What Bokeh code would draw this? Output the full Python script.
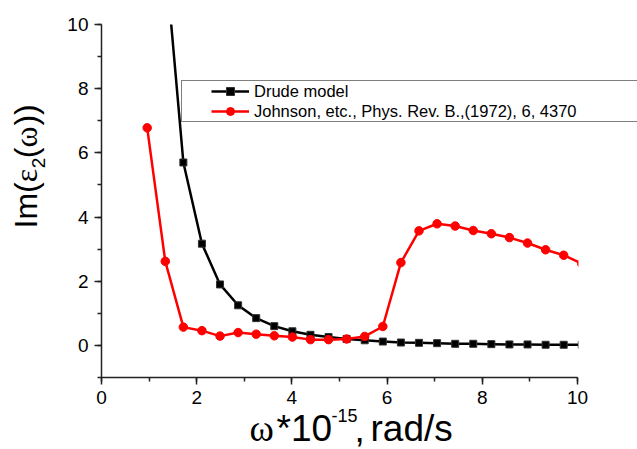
import math
from bokeh.plotting import figure
from bokeh.layouts import row, column
from bokeh.models import Range1d, Label, Legend, LegendItem, SingleIntervalTicker, BoxAnnotation
from bokeh.embed import file_html
from bokeh.resources import INLINE

# ---- data ----
drude_x = [1.34, 1.72, 2.11, 2.49, 2.87, 3.25, 3.63, 4.01, 4.39, 4.77, 5.15, 5.53,
           5.91, 6.29, 6.67, 7.05, 7.43, 7.81, 8.19, 8.57, 8.95, 9.33, 9.71, 10.09]
drude_y = [12.1, 5.70, 3.17, 1.90, 1.25, 0.85, 0.60, 0.44, 0.33, 0.26, 0.20, 0.16,
           0.12, 0.09, 0.08, 0.07, 0.05, 0.05, 0.04, 0.03, 0.03, 0.02, 0.02, 0.02]
johnson_x = [0.96, 1.34, 1.72, 2.11, 2.49, 2.87, 3.25, 3.63, 4.01, 4.39, 4.77, 5.15,
             5.53, 5.91, 6.29, 6.67, 7.05, 7.43, 7.81, 8.19, 8.57, 8.95, 9.33, 9.71, 10.09]
johnson_y = [6.78, 2.62, 0.57, 0.46, 0.29, 0.40, 0.35, 0.30, 0.26, 0.18, 0.18, 0.20,
             0.28, 0.59, 2.58, 3.57, 3.79, 3.72, 3.58, 3.48, 3.36, 3.19, 2.98, 2.81, 2.55]
labels = ["Drude model", "Johnson, etc., Phys. Rev. B.,(1972), 6, 4370"]

# ---- layout (page pixels) ----
PW, PH = 637, 449
YLW = 55            # width of the strip holding the y-axis title
MH = 412            # height of the main plot
OVL = 8             # x-title strip overlaps the main plot's bottom border
FL, FR, FT, FB = 101, 637, 24, 377
AX_END_PX = 577     # pixel where x = 10 sits
X0, XA, Y0, Y1 = 0, 10, -1, 10
X1 = X0 + (XA - X0) * (FR - FL) / (AX_END_PX - FL)

MW = PW - YLW
p = figure(width=MW, height=MH, x_range=Range1d(X0, X1), y_range=Range1d(Y0, Y1),
           output_backend="svg", toolbar_location=None,
           min_border_left=FL - YLW, min_border_right=0, min_border_top=FT,
           min_border_bottom=MH - FB)
p.frame_align = False
p.outline_line_color = None
p.grid.visible = False
p.background_fill_color = "white"
p.border_fill_color = "white"

for ax in (p.xaxis[0], p.yaxis[0]):
    ax.ticker = SingleIntervalTicker(interval=2, num_minor_ticks=2)
    ax.axis_line_width = 1.5
    ax.axis_line_color = "#222222"
    ax.major_tick_line_width = 1.5
    ax.minor_tick_line_width = 1.5
    ax.major_tick_line_color = "#222222"
    ax.minor_tick_line_color = "#222222"
    ax.major_tick_out = 7
    ax.major_tick_in = 0
    ax.minor_tick_out = 4
    ax.minor_tick_in = 0
    ax.major_label_text_font = "Liberation Sans"
    ax.major_label_text_font_size = "19px"
    ax.major_label_text_color = "black"
    ax.major_label_standoff = 6
p.xaxis[0].bounds = (X0, XA)

dl = p.line(drude_x, drude_y, line_color="black", line_width=2.5)
ds = p.scatter(drude_x, drude_y, marker="square", size=7, fill_color="black", line_color="#333333")
jl = p.line(johnson_x, johnson_y, line_color="red", line_width=2.5)
js = p.scatter(johnson_x, johnson_y, marker="circle", size=8.5, fill_color="red", line_color="red")

# data beyond x = 10 is hidden, as in the original plot
p.add_layout(BoxAnnotation(left=XA + 0.02, fill_color="white", fill_alpha=1.0, line_color=None))

legend = Legend(items=[LegendItem(label=labels[0], renderers=[dl, ds]),
                       LegendItem(label=labels[1], renderers=[jl, js])],
                location=(181 - FL, FB - 122), padding=0, spacing=0, margin=0,
                glyph_width=38, glyph_height=20, label_height=20, label_standoff=5,
                label_width=440, border_line_color="black", border_line_width=1,
                background_fill_color="white", background_fill_alpha=1.0,
                title="\u00a0", title_location="left", title_text_font_size="1px",
                title_standoff=28,
                label_text_font="Liberation Sans", label_text_font_size="16.5px",
                label_text_color="black")
p.add_layout(legend)

def strip(w, h, x0, y0):
    f = figure(width=w, height=h, x_range=Range1d(x0, x0 + w), y_range=Range1d(y0 + h, y0),
               x_axis_type=None, y_axis_type=None, min_border=0, toolbar_location=None,
               output_backend="svg")
    f.frame_align = False
    f.outline_line_color = None
    f.grid.visible = False
    f.background_fill_alpha = 0
    f.border_fill_alpha = 0
    return f

ylab = strip(YLW, PH, 0, 0)
xlab = strip(MW, PH - MH + OVL, YLW, MH - OVL)
xlab.margin = (-OVL, 0, 0, 0)

MID = 0.3465   # distance from baseline to the middle of the text box, in em

def txt(f, px, py, s, size, font="Liberation Sans", rotated=False):
    if rotated:
        px = px - MID * size
    else:
        py = py - MID * size
    f.add_layout(Label(x=px, y=py, text=s, text_font=font, text_font_size=f"{size}px",
                       angle=(math.pi / 2 if rotated else 0.0), text_align="left",
                       text_baseline="middle", text_color="black"))

# x axis title: ω*10^-15, rad/s
txt(xlab, 249, 441, "ω", 37, "Liberation Serif")
txt(xlab, 276, 441, "*10", 37)
txt(xlab, 331, 421, "-15", 18)
txt(xlab, 354, 441, ",", 37)
txt(xlab, 370, 441, "rad/s", 37)

# y axis title: Im(ε2(ω)), rotated
txt(ylab, 37, 228, "Im(", 32, rotated=True)
txt(ylab, 37, 181.8, "ε", 32, "Liberation Serif", rotated=True)
txt(ylab, 45, 167.8, "2", 19, rotated=True)
txt(ylab, 37, 157.8, "(", 32, rotated=True)
txt(ylab, 37, 147.1, "ω", 32, "Liberation Serif", rotated=True)
txt(ylab, 37, 125.1, "))", 32, rotated=True)

layout = row(ylab, column(p, xlab, spacing=0), spacing=0)
open("out.html", "w").write(file_html(layout, INLINE))
